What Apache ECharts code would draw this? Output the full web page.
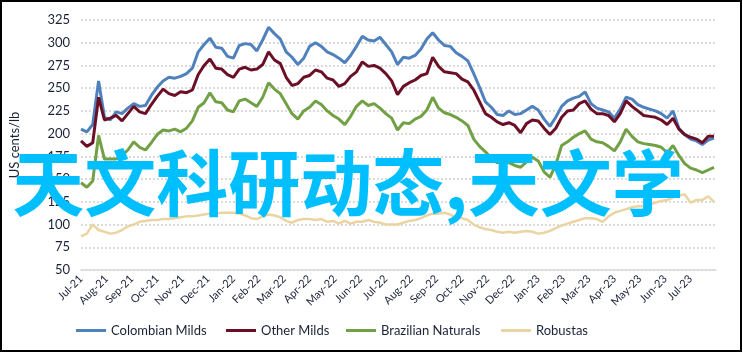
<!DOCTYPE html>
<html>
<head>
<meta charset="utf-8">
<script src="https://cdn.jsdelivr.net/npm/echarts@6/dist/echarts.min.js"></script>
<style>
  html, body { margin: 0; padding: 0; background: #fff; }
  #chart { width: 743px; height: 352px; }
  #frame { position: absolute; left: 0; top: 0; width: 742px; height: 352px; box-sizing: border-box; border: 2px solid #000; pointer-events: none; }
</style>
</head>
<body>
<div id="chart"></div>
<div id="frame"></div>
<script>
// monthly tick labels, axis starts Jul-21
const monthLabels = ['Jul-21', 'Aug-21', 'Sep-21', 'Oct-21', 'Nov-21', 'Dec-21',
  'Jan-22', 'Feb-22', 'Mar-22', 'Apr-22', 'May-22', 'Jun-22', 'Jul-22', 'Aug-22',
  'Sep-22', 'Oct-22', 'Nov-22', 'Dec-22', 'Jan-23', 'Feb-23', 'Mar-23', 'Apr-23',
  'May-23', 'Jun-23', 'Jul-23'];

// weekly prices, US cents/lb
const colombianMilds = [205, 202, 210, 258, 218, 215, 224, 222, 228, 233, 230, 231, 242, 251, 258, 262, 261, 263, 266, 272, 290, 298, 305, 295, 294, 285, 283, 297,
  299, 298, 291, 303, 317, 310, 304, 290, 284, 276, 283, 296, 300, 296, 290, 287, 283, 278, 286, 296, 307, 303, 302, 306, 298, 290, 276, 284, 283, 286, 293, 304, 311, 303, 297, 296, 289, 285, 280, 266, 251, 235,
  229, 221, 220, 225, 221, 222, 226, 230, 226, 216, 208, 218, 230, 236, 239, 241, 246, 233, 228, 226, 224, 217, 227, 240, 238, 232, 229, 227, 225, 222, 217, 225, 206, 199, 194, 192, 188, 193, 195];
const otherMilds = [192, 186, 190, 240, 215, 217, 220, 214, 222, 230, 224, 222, 232, 241, 249, 244, 242, 246, 245, 248, 265, 275, 282, 272, 271, 265, 262, 271,
  273, 270, 271, 276, 290, 281, 277, 262, 253, 255, 262, 264, 270, 268, 261, 259, 252, 255, 263, 268, 279, 274, 275, 272, 266, 258, 243, 252, 256, 259, 264, 266, 284, 274, 268, 267, 266, 260, 257, 248, 235, 222,
  218, 213, 210, 212, 209, 201, 211, 215, 214, 206, 199, 206, 218, 225, 226, 233, 236, 227, 222, 222, 220, 213, 222, 236, 230, 225, 220, 219, 218, 215, 210, 217, 205, 199, 196, 194, 190, 197, 197];
const brazilianNaturals = [146, 141, 148, 198, 172, 172, 172, 176, 182, 191, 185, 182, 190, 199, 204, 203, 205, 202, 206, 214, 229, 234, 245, 235, 234, 226, 224, 236,
  238, 234, 230, 240, 256, 249, 244, 233, 222, 216, 225, 229, 236, 232, 225, 220, 216, 210, 219, 230, 236, 231, 233, 228, 222, 217, 204, 212, 211, 216, 219, 226, 240, 228, 223, 221, 218, 214, 209, 194, 186, 180,
  173, 168, 170, 168, 165, 163, 169, 174, 170, 158, 152, 166, 187, 191, 196, 200, 203, 194, 191, 190, 186, 181, 191, 205, 197, 191, 189, 188, 187, 185, 179, 187, 176, 167, 162, 160, 157, 160, 163];
const robustas = [87, 90, 100, 94, 92, 90, 91, 94, 98, 100, 103, 104, 105, 105, 106, 106, 107, 108, 109, 109, 110, 111, 112, 112, 113, 113, 113, 112,
  110, 107, 106, 109, 111, 110, 108, 104, 102, 105, 106, 106, 105, 106, 103, 104, 101, 104, 101, 103, 103, 105, 103, 102, 100, 100, 100, 102, 104, 105, 107, 110, 112, 112, 113, 111, 108, 107, 105, 100, 97, 95,
  94, 92, 91, 92, 91, 92, 93, 92, 90, 91, 93, 96, 99, 101, 103, 105, 107, 107, 106, 103, 109, 113, 115, 117, 119, 120, 120, 122, 124, 126, 127, 130, 132, 133, 124, 127, 127, 131, 125];

const seriesNames = ['Colombian Milds', 'Other Milds', 'Brazilian Naturals', 'Robustas'];
const seriesColors = ['#4f81bd', '#6b0f26', '#72a044', '#ead4a2'];
const legendLefts = [71, 221, 341, 496];

const weeksPerMonth = 52 / 12;
const toPoints = values => values.map((v, i) => [i / weeksPerMonth, v]);

const font = 'Lato, "Open Sans", sans-serif';
const textColor = '#1c2236';

const chart = echarts.init(document.getElementById('chart'));

chart.setOption({
  animation: false,
  backgroundColor: '#fff',
  textStyle: { fontFamily: font },
  grid: { left: 79, right: 27, top: 20, bottom: 82 },
  xAxis: {
    type: 'value',
    min: 0,
    max: 25,
    interval: 1,
    axisLine: { lineStyle: { color: '#d9d9d9', width: 1.5 } },
    axisTick: { show: false },
    splitLine: { show: false },
    axisLabel: {
      rotate: 45,
      margin: 7,
      fontSize: 11,
      color: textColor,
      fontFamily: font,
      formatter: v => monthLabels[Math.round(v)] || ''
    }
  },
  yAxis: {
    type: 'value',
    min: 50,
    max: 325,
    interval: 25,
    name: 'US cents/lb',
    nameLocation: 'middle',
    nameGap: 60,
    nameTextStyle: { fontSize: 13, color: textColor, fontFamily: font },
    axisLine: { show: false },
    axisTick: { show: false },
    axisLabel: { fontSize: 13, color: textColor, margin: 11, fontFamily: font },
    splitLine: { lineStyle: { color: '#cfcfcf', width: 1.5, type: [2, 2] } }
  },
  // one legend per item so each sits where the reference has it
  legend: seriesNames.map((name, k) => ({
    left: legendLefts[k],
    top: 319,
    itemWidth: 30,
    itemHeight: 3,
    itemGap: 4,
    icon: 'rect',
    textStyle: { fontSize: 13, color: textColor, fontFamily: font },
    data: [name]
  })),
  series: [colombianMilds, otherMilds, brazilianNaturals, robustas].map((vals, k) => ({
    name: seriesNames[k],
    type: 'line',
    data: toPoints(vals),
    showSymbol: false,
    lineStyle: { width: k === 3 ? 2.5 : 3, color: seriesColors[k] },
    itemStyle: { color: seriesColors[k] }
  })),
  graphic: [{
    type: 'text',
    x: 348,
    y: 183,
    z: 100,
    style: {
      text: '天文科研动态,天文学',
      fill: '#00bfff',
      font: 'bold 72px "Noto Sans CJK SC"',
      align: 'center',
      verticalAlign: 'middle'
    }
  }]
});
</script>
</body>
</html>
